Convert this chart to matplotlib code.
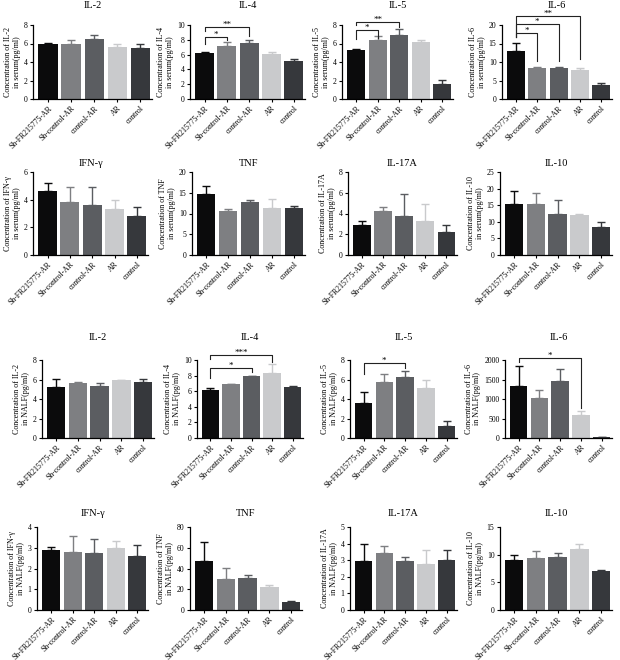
import numpy as np
import matplotlib.pyplot as plt

plt.rcParams['font.family'] = ['Liberation Serif', 'DejaVu Serif']

groups = ['Sh-FR215775-AR', 'Sh-control-AR', 'control-AR', 'AR', 'control']
colors = ['#0b0b0c', '#7e7f82', '#5b5d61', '#c9cacc', '#36383c']

# serum panels
serum_titles = ['IL-2', 'IL-4', 'IL-5', 'IL-6', 'IFN-\u03b3', 'TNF', 'IL-17A', 'IL-10']
serum_means = [
    [5.9, 5.95, 6.5, 5.6, 5.55],
    [6.2, 7.15, 7.55, 6.1, 5.2],
    [5.3, 6.4, 6.9, 6.2, 1.6],
    [12.9, 8.5, 8.3, 7.9, 3.9],
    [4.65, 3.85, 3.65, 3.3, 2.8],
    [14.7, 10.7, 12.8, 11.4, 11.3],
    [2.85, 4.2, 3.8, 3.3, 2.2],
    [15.5, 15.3, 12.2, 11.9, 8.3],
]
serum_errs = [
    [0.2, 0.4, 0.45, 0.3, 0.35],
    [0.1, 0.6, 0.45, 0.2, 0.2],
    [0.1, 0.4, 0.65, 0.2, 0.5],
    [2.3, 0.2, 0.4, 0.6, 0.5],
    [0.55, 1.1, 1.3, 0.65, 0.7],
    [2.0, 0.4, 0.5, 2.1, 0.6],
    [0.4, 0.4, 2.1, 1.65, 0.65],
    [3.8, 3.3, 4.4, 0.4, 1.5],
]
serum_ymax = [8, 10, 8, 20, 6, 20, 8, 25]
serum_ystep = [2, 2, 2, 5, 2, 5, 2, 5]

# NALF panels
nalf_titles = ['IL-2', 'IL-4', 'IL-5', 'IL-6', 'IFN-\u03b3', 'TNF', 'IL-17A', 'IL-10']
nalf_means = [
    [5.2, 5.65, 5.35, 5.9, 5.75],
    [6.2, 6.9, 7.9, 8.3, 6.5],
    [3.6, 5.75, 6.25, 5.1, 1.25],
    [1340, 1030, 1460, 590, 20],
    [2.9, 2.78, 2.75, 3.0, 2.6],
    [47, 30, 30.5, 22.5, 7.5],
    [2.95, 3.45, 2.95, 2.8, 3.0],
    [9.1, 9.4, 9.5, 11.0, 7.0],
]
nalf_errs = [
    [0.9, 0.1, 0.25, 0.1, 0.3],
    [0.2, 0.05, 0.1, 1.2, 0.2],
    [1.15, 0.85, 0.65, 0.9, 0.45],
    [500, 190, 310, 110, 10],
    [0.12, 0.78, 0.65, 0.32, 0.55],
    [19, 10.5, 3, 2, 1.5],
    [1.0, 0.42, 0.25, 0.82, 0.6],
    [0.9, 1.3, 0.85, 1.0, 0.3],
]
nalf_ymax = [8, 10, 8, 2000, 4, 80, 5, 15]
nalf_ystep = [2, 2, 2, 500, 1, 20, 1, 5]

# significance brackets: panel -> (i, j, y, left drop, right drop, label)
serum_sig = {
    1: [(0, 1, 8.4, 7.5, 8.0, '*'), (0, 2, 9.7, 9.2, 8.5, '**')],
    2: [(0, 1, 7.45, 6.5, 6.6, '*'), (0, 2, 8.3, 7.95, 7.8, '**')],
    3: [(0, 1, 17.8, 16.8, 10.3, '*'), (0, 2, 20.3, 16.8, 10.3, '*'),
        (0, 3, 22.4, 16.8, 10.7, '**')],
}
nalf_sig = {
    1: [(0, 2, 9.0, 7.7, 8.4, '*'), (0, 3, 10.7, 10.1, 9.8, '***')],
    2: [(0, 2, 7.66, 6.6, 7.2, '*')],
    3: [(0, 3, 2060, 1960, 770, '*')],
}

# panel rectangles in pixels: x0, x1, ytop, ybottom; title centre heights
W, H = 620, 660
rows_y = [(25, 99), (172, 255), (360, 438), (527, 610)]
title_y = [5, 163, 337, 513]
cols_x = [
    [(33, 152), (190, 305), (342, 453), (502, 612)],
    [(33, 148), (192, 305), (348, 457), (500, 612)],
    [(42, 154), (197, 303), (350, 457), (505, 612)],
    [(37, 148), (190, 302), (350, 457), (500, 612)],
]

fig = plt.figure(figsize=(W / 100, H / 100), dpi=100)
x = np.arange(len(groups))


def draw_panel(ax, title, means, errs, ymax, ystep, medium, sigs):
    for k in range(len(groups)):
        ax.bar(x[k], means[k], width=0.84, color=colors[k], zorder=2)
        ax.errorbar(x[k], means[k], yerr=[[0], [errs[k]]], fmt='none',
                    ecolor=colors[k], elinewidth=1.0, capsize=2.6,
                    capthick=1.0, zorder=1)
    ax.set_xlim(-0.65, 4.5)
    ax.set_ylim(0, ymax)
    ax.set_yticks(np.arange(0, ymax + ystep / 2, ystep))
    ax.set_xticks(x)
    ax.set_xticklabels(groups, rotation=45, ha='right', rotation_mode='anchor',
                       fontsize=5.6)
    ax.tick_params(axis='y', labelsize=5.6, length=2.5, width=0.8, pad=1.5)
    ax.tick_params(axis='x', length=2.5, width=0.8, pad=1.5)
    for s in ['top', 'right']:
        ax.spines[s].set_visible(False)
    for s in ['left', 'bottom']:
        ax.spines[s].set_linewidth(0.9)
    ax.set_ylabel('Concentration of %s\nin %s(pg/ml)' % (title, medium),
                  fontsize=5.8, labelpad=2, linespacing=1.1)
    for (i, j, yb, yl, yr, lab) in sigs:
        ax.plot([x[i], x[i], x[j], x[j]], [yl, yb, yb, yr], color='#222222',
                lw=0.8, clip_on=False, zorder=3)
        ax.text((x[i] + x[j]) / 2, yb, lab, ha='center', va='baseline',
                fontsize=6.5, clip_on=False)


panels = []
for n in range(8):
    panels.append((n // 4, n % 4, serum_titles[n], serum_means[n], serum_errs[n],
                   serum_ymax[n], serum_ystep[n], 'serum', serum_sig.get(n, [])))
for n in range(8):
    panels.append((2 + n // 4, n % 4, nalf_titles[n], nalf_means[n], nalf_errs[n],
                   nalf_ymax[n], nalf_ystep[n], 'NALF', nalf_sig.get(n, [])))

for (r, c, title, means, errs, ymax, ystep, medium, sigs) in panels:
    x0, x1 = cols_x[r][c]
    yt, yb = rows_y[r]
    ax = fig.add_axes([x0 / W, 1 - yb / H, (x1 - x0) / W, (yb - yt) / H])
    draw_panel(ax, title, means, errs, ymax, ystep, medium, sigs)
    fig.text((x0 + x1) / 2 / W, 1 - title_y[r] / H, title, ha='center',
             va='center', fontsize=7.5)

fig.savefig('out.png', dpi=100)
